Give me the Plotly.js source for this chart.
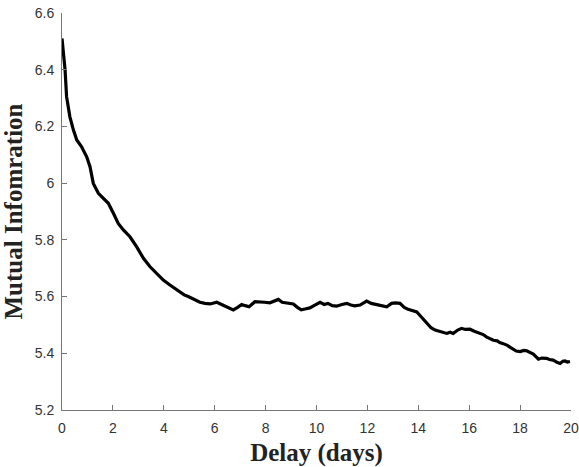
<!DOCTYPE html>
<html>
<head>
<meta charset="utf-8">
<script src="https://cdn.plot.ly/plotly-3.0.1.min.js"></script>
<style>html,body{margin:0;padding:0;background:#fff;}#chart{width:579px;height:467px;}</style>
</head>
<body>
<div id="chart"></div>
<script>
var delayDays = [0, 0.06, 0.12, 0.18, 0.31, 0.45, 0.58, 0.77, 0.97, 1.10, 1.23, 1.43, 1.62, 1.82, 2.02, 2.21, 2.41, 2.67, 2.93, 3.20, 3.46, 3.72, 3.98, 4.24, 4.45, 4.64, 4.80, 4.96,
  5.20, 5.42, 5.62, 5.82, 6.08, 6.34, 6.55, 6.73, 6.90, 7.06, 7.20, 7.35, 7.58, 7.78, 7.95, 8.17, 8.30, 8.50, 8.65, 8.83, 9.09, 9.25, 9.40, 9.55, 9.74, 9.90,
  10.07, 10.14, 10.30, 10.45, 10.62, 10.79, 11.00, 11.19, 11.35, 11.50, 11.71, 11.85, 11.97, 12.15, 12.37, 12.55, 12.76, 12.95, 13.10, 13.28, 13.45, 13.60, 13.80, 13.94,
  14.05, 14.13, 14.25, 14.33, 14.50, 14.66, 14.85, 15.00, 15.12, 15.25, 15.37, 15.55, 15.70, 15.85, 16.03, 16.20, 16.42, 16.55, 16.69, 16.80, 16.95, 17.10, 17.20, 17.34,
  17.50, 17.63, 17.73, 17.85, 18.00, 18.15, 18.26, 18.40, 18.52, 18.62, 18.72, 18.85, 19.04, 19.15, 19.30, 19.45, 19.57, 19.68, 19.76, 19.86, 19.96];
var mutualInfo = [6.51, 6.45, 6.40, 6.305, 6.234, 6.187, 6.152, 6.128, 6.093, 6.058, 5.999, 5.964, 5.946, 5.929, 5.894, 5.858, 5.835, 5.811, 5.776, 5.735, 5.705, 5.682, 5.658, 5.641, 5.628, 5.617, 5.606, 5.600,
  5.590, 5.580, 5.576, 5.574, 5.580, 5.570, 5.560, 5.553, 5.562, 5.572, 5.568, 5.564, 5.582, 5.582, 5.580, 5.578, 5.582, 5.590, 5.580, 5.578, 5.574, 5.562, 5.553, 5.556, 5.560, 5.568,
  5.576, 5.580, 5.572, 5.576, 5.568, 5.566, 5.572, 5.576, 5.570, 5.567, 5.570, 5.578, 5.584, 5.576, 5.571, 5.566, 5.564, 5.576, 5.578, 5.576, 5.562, 5.555, 5.550, 5.546,
  5.535, 5.527, 5.512, 5.505, 5.490, 5.482, 5.478, 5.472, 5.470, 5.474, 5.470, 5.482, 5.488, 5.484, 5.485, 5.478, 5.470, 5.466, 5.457, 5.452, 5.446, 5.444, 5.438, 5.434,
  5.428, 5.420, 5.413, 5.408, 5.406, 5.410, 5.409, 5.402, 5.397, 5.388, 5.379, 5.383, 5.382, 5.378, 5.376, 5.368, 5.364, 5.372, 5.373, 5.369, 5.371];
var xTicks = [0, 2, 4, 6, 8, 10, 12, 14, 16, 18, 20];
var yTicks = [5.2, 5.4, 5.6, 5.8, 6, 6.2, 6.4, 6.6];

var trace = {
  x: delayDays, y: mutualInfo, type: 'scatter', mode: 'lines',
  line: {color: '#000', width: 3.2}, hoverinfo: 'skip'
};
var tickFont = {family: 'Liberation Sans, Arial, sans-serif', size: 14, color: '#333'};
var titleFont = {family: 'Liberation Serif, Times New Roman, serif', size: 25, color: '#222', weight: 'bold'};
var layout = {
  width: 579, height: 467,
  margin: {l: 62, r: 8, t: 13, b: 57},
  paper_bgcolor: '#fff', plot_bgcolor: '#fff',
  showlegend: false,
  xaxis: {
    range: [0, 20], tickvals: xTicks, ticktext: xTicks.map(String),
    ticks: 'inside', ticklen: 5, tickcolor: '#777', tickwidth: 1,
    showline: true, linecolor: '#777', linewidth: 1, showgrid: false, zeroline: false,
    tickfont: tickFont, ticklabelstandoff: 5,
    title: {text: '<b>Delay (days)</b>', font: titleFont, standoff: 8}
  },
  yaxis: {
    range: [5.2, 6.6], tickvals: yTicks, ticktext: yTicks.map(function(v){return String(v);}),
    ticks: 'inside', ticklen: 5, tickcolor: '#777', tickwidth: 1,
    showline: true, linecolor: '#777', linewidth: 1, showgrid: false, zeroline: false,
    tickfont: tickFont, ticklabelstandoff: 4,
    title: {text: '<b>Mutual Infomration</b>', font: titleFont, standoff: 4}
  }
};
Plotly.newPlot('chart', [trace], layout, {displayModeBar: false, staticPlot: true});
</script>
</body>
</html>
